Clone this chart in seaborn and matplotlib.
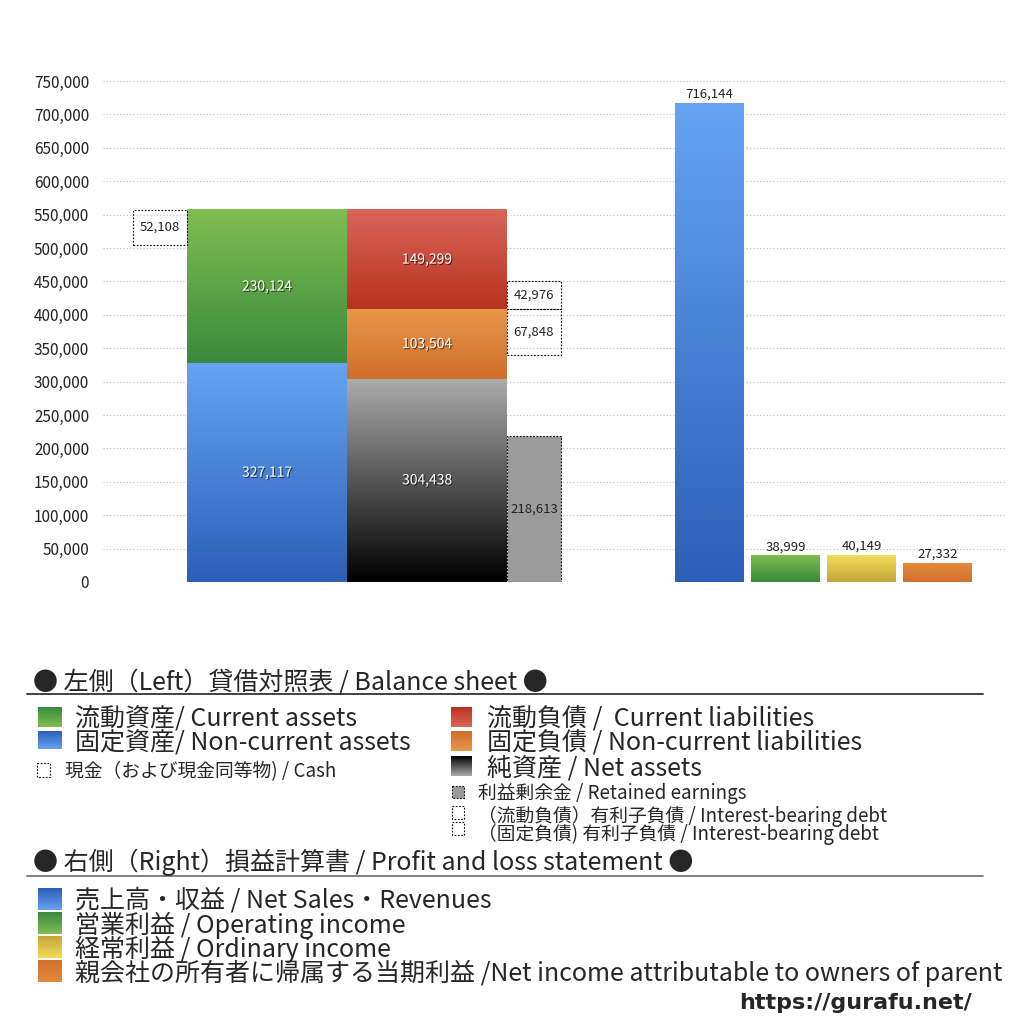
import numpy as np
import matplotlib
matplotlib.use('Agg')
import matplotlib.pyplot as plt
import matplotlib.patheffects as pe
from matplotlib.ticker import FuncFormatter, MultipleLocator
import seaborn as sns

# balance sheet (left)
current_assets = 230124
noncurrent_assets = 327117
cash = 52108
current_liab = 149299
noncurrent_liab = 103504
net_assets = 304438
retained_earnings = 218613
debt_current = 42976
debt_noncurrent = 67848

# profit and loss (right)
pl_keys = ['sales', 'operating', 'ordinary', 'net']
pl_values = [716144, 38999, 40149, 27332]

# legend texts
bs_title = '● 左側（Left）貸借対照表 / Balance sheet ●'
bs_left_items = ['流動資産/ Current assets', '固定資産/ Non-current assets']
cash_item = '現金（および現金同等物) / Cash'
bs_right_items = ['流動負債 /  Current liabilities', '固定負債 / Non-current liabilities',
                  '純資産 / Net assets']
bs_small_items = ['利益剰余金 / Retained earnings',
                  '（流動負債）有利子負債 / Interest-bearing debt',
                  '（固定負債) 有利子負債 / Interest-bearing debt']
pl_title = '● 右側（Right）損益計算書 / Profit and loss statement ●'
pl_items = ['売上高・収益 / Net Sales・Revenues', '営業利益 / Operating income',
            '経常利益 / Ordinary income',
            '親会社の所有者に帰属する当期利益 /Net income attributable to owners of parent']
site = 'https://gurafu.net/'

# gradient colours (top, bottom)
GREEN = ('#80bd52', '#3a8a3c')
BLUE = ('#66a3f2', '#2c5fb8')
RED = ('#d9665a', '#b8321e')
ORANGE = ('#e8964a', '#d06e2c')
BLACK = ('#ababab', '#000000')
YELLOW = ('#f2dc58', '#c4a63a')
PL_ORANGE = ('#e38a3c', '#d2702e')
pl_colors = [BLUE, GREEN, YELLOW, PL_ORANGE]

sns.set_theme(style='white')
plt.rcParams['font.family'] = ['Noto Sans CJK JP', 'DejaVu Sans']


def grad_rect(ax, x0, y0, w, h, cols, z=2):
    top = np.array(matplotlib.colors.to_rgb(cols[0]))
    bot = np.array(matplotlib.colors.to_rgb(cols[1]))
    t = np.linspace(0, 1, 128)[:, None]
    arr = (top * (1 - t) + bot * t)[:, None, :]
    ax.imshow(arr, extent=(x0, x0 + w, y0, y0 + h), origin='upper',
              aspect='auto', zorder=z, interpolation='bilinear')


def grad_patch(ax, p, cols):
    x0, y0 = p.get_xy()
    grad_rect(ax, x0, y0, p.get_width(), p.get_height(), cols, z=p.get_zorder() + 0.1)


fig = plt.figure(figsize=(10.24, 10.24), dpi=100)
ax = fig.add_axes([103 / 1024, 1 - 582 / 1024, 904 / 1024, 501 / 1024])

# P&L bars through seaborn
pl_pos = [606.5, 682.5, 758.5, 834.5]
sns.barplot(x=pl_pos, y=pl_values, native_scale=True, width=69 / 76,
            errorbar=None, color='#4a80d8', ax=ax, zorder=2)
pl_patches = list(ax.patches)
for p, cols in zip(pl_patches, pl_colors):
    grad_patch(ax, p, cols)
for x, v in zip(pl_pos, pl_values):
    ax.text(x, v + 4000, f'{v:,}', ha='center', va='bottom', fontsize=9.5, color='#222222')

# balance sheet bars
total = noncurrent_assets + current_assets
segs = [
    (84, 160, 0, noncurrent_assets, BLUE),
    (84, 160, noncurrent_assets, current_assets, GREEN),
    (244, 160, 0, net_assets, BLACK),
    (244, 160, net_assets, noncurrent_liab, ORANGE),
    (244, 160, net_assets + noncurrent_liab, current_liab, RED),
]
shadow = [pe.withSimplePatchShadow(offset=(0.8, -0.8), shadow_rgbFace='black', alpha=0.6)]
for x0, w, b, h, cols in segs:
    bars = ax.bar(x0, h, width=w, bottom=b, align='edge', color=cols[1], zorder=2, linewidth=0)
    grad_patch(ax, bars[0], cols)
    ax.text(x0 + w / 2, b + h / 2, f'{h:,}', ha='center', va='center', fontsize=10,
            color='white', path_effects=shadow, zorder=5)

dot = (0, (1.5, 1.5))
boxes = [
    (30, 54, total - cash, cash, 'none'),
    (404, 54, net_assets + noncurrent_liab, debt_current, 'none'),
    (404, 54, net_assets + noncurrent_liab - debt_noncurrent, debt_noncurrent, 'none'),
    (404, 54, 0, retained_earnings, '#9b9b9b'),
]
for x0, w, b, h, fc in boxes:
    ax.bar(x0, h, width=w, bottom=b, align='edge', facecolor=fc, edgecolor='black',
           linestyle=dot, linewidth=0.8, zorder=3)
    ax.text(x0 + w / 2, b + h / 2, f'{h:,}', ha='center', va='center', fontsize=9.5,
            color='#222222', zorder=5)

ax.set_xlim(0, 904)
ax.set_ylim(0, 750000)
ax.yaxis.set_major_locator(MultipleLocator(50000))
ax.yaxis.set_major_formatter(FuncFormatter(lambda v, _: f'{int(v):,}'))
ax.tick_params(axis='y', labelsize=11, pad=10, length=0, colors='#222222')
ax.set_xticks([])
ax.yaxis.grid(True, linestyle=(0, (1, 2)), color='#bbbbbb', linewidth=0.8)
ax.set_axisbelow(True)
sns.despine(ax=ax, left=True, bottom=True)

# legend area in pixel coordinates
la = fig.add_axes([0, 0, 1, 1])
la.set_xlim(0, 1024)
la.set_ylim(1024, 0)
la.axis('off')
la.patch.set_alpha(0)

big = 18
small = 13.5
dy = 2
la.text(33, 680 + dy, bs_title, fontsize=big, va='center', ha='left')
la.plot([27, 983], [694, 694], color='#333333', lw=1.3)
for i, (t, cols) in enumerate(zip(bs_left_items, [GREEN, BLUE])):
    y = 717 + 24 * i
    grad_rect(la, 38, y - 10, 24, 20 if i == 0 else 18, cols)
    la.text(75, y + dy, t, fontsize=big, va='center')
la.add_patch(plt.Rectangle((37, 763), 13, 14, fill=False, ls=dot, lw=0.8, ec='black'))
la.text(65, 770 + dy, cash_item, fontsize=small, va='center')

for i, (t, cols) in enumerate(zip(bs_right_items, [RED, ORANGE, BLACK])):
    y = 717 + 24.5 * i
    grad_rect(la, 451, y - 10, 21, 20, cols)
    la.text(487, y + dy, t, fontsize=big, va='center')
la.add_patch(plt.Rectangle((452, 786), 12, 12, fc='#9b9b9b', ls=dot, lw=0.8, ec='black'))
la.add_patch(plt.Rectangle((452, 806), 12, 13, fill=False, ls=dot, lw=0.8, ec='black'))
la.add_patch(plt.Rectangle((452, 822), 12, 13, fill=False, ls=dot, lw=0.8, ec='black'))
for i, t in enumerate(bs_small_items):
    y = [792, 814, 832][i]
    la.text(478, y + dy, t, fontsize=small, va='center')

la.text(33, 860 + dy, pl_title, fontsize=big, va='center', ha='left')
la.plot([27, 983], [876, 876], color='#777777', lw=1.3)
for i, (t, cols) in enumerate(zip(pl_items, pl_colors)):
    y = 899 + 24 * i
    grad_rect(la, 38, y - 11, 24, 22, cols)
    la.text(75, y + dy, t, fontsize=big, va='center')

la.text(972, 1003, site, fontsize=16, fontweight='bold', ha='right', va='center',
        family=['DejaVu Sans'])

fig.savefig('out.png', dpi=100, facecolor='white')
